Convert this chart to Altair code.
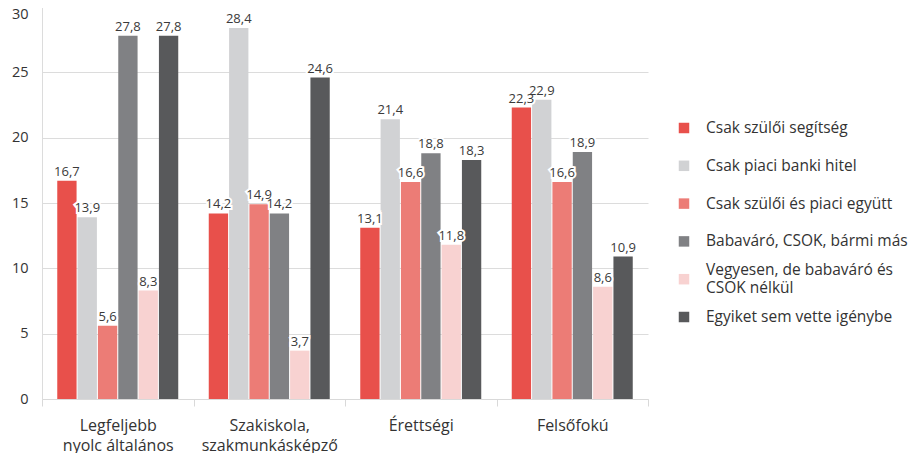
import altair as alt
import pandas as pd

categories = ["Legfeljebb nyolc általános", "Szakiskola, szakmunkásképző", "Érettségi", "Felsőfokú"]
series = [
    "Csak szülői segítség",
    "Csak piaci banki hitel",
    "Csak szülői és piaci együtt",
    "Babaváró, CSOK, bármi más",
    "Vegyesen, de babaváró és CSOK nélkül",
    "Egyiket sem vette igénybe",
]
legend_text = [
    "Csak szülői segítség",
    "Csak piaci banki hitel",
    "Csak szülői és piaci együtt",
    "Babaváró, CSOK, bármi más",
    "Vegyesen, de babaváró és\nCSOK nélkül",
    "Egyiket sem vette igénybe",
]
colors = ["#E8504B", "#D1D2D4", "#EC7C76", "#808184", "#F8D2D1", "#58595B"]

v_csak_szuloi = [16.7, 14.2, 13.1, 22.3]
v_csak_piaci = [13.9, 28.4, 21.4, 22.9]
v_egyutt = [5.6, 14.9, 16.6, 16.6]
v_babavaro = [27.8, 14.2, 18.8, 18.9]
v_vegyesen = [8.3, 3.7, 11.8, 8.6]
v_egyiket = [27.8, 24.6, 18.3, 10.9]

all_values = [v_csak_szuloi, v_csak_piaci, v_egyutt, v_babavaro, v_vegyesen, v_egyiket]

rows = []
for s, vals in zip(series, all_values):
    for c, v in zip(categories, vals):
        rows.append({"cat": c, "series": s, "value": v, "label": f"{v:.1f}".replace(".", ",")})
df = pd.DataFrame(rows)

df_leg = pd.DataFrame({"series": series, "text": legend_text,
                       "lines": [t.count("\n") + 1 for t in legend_text]})

FONT = "Open Sans"
color_scale = alt.Scale(domain=series, range=colors)

x = alt.X(
    "cat:N",
    sort=categories,
    title=None,
    scale=alt.Scale(paddingInner=0, paddingOuter=0),
    axis=alt.Axis(
        labelAngle=0,
        tickBand="extent",
        tickSize=7,
        tickColor="#D9D9D9",
        domainColor="#D9D9D9",
        labelPadding=11,
        labelFontSize=16,
        labelColor="#333333",
        labelFont=FONT,
        labelLimit=300,
        labelExpr="datum.label == 'Legfeljebb nyolc általános' ? ['Legfeljebb', 'nyolc általános'] : datum.label == 'Szakiskola, szakmunkásképző' ? ['Szakiskola,', 'szakmunkásképző'] : datum.label",
        labelLineHeight=20,
    ),
)
xoff = alt.XOffset(
    "series:N",
    sort=series,
    scale=alt.Scale(paddingInner=0.05, paddingOuter=0.75),
)
y = alt.Y(
    "value:Q",
    title=None,
    scale=alt.Scale(domain=[0, 30], nice=False),
    axis=alt.Axis(
        values=[0, 5, 10, 15, 20, 25, 30],
        ticks=False,
        gridColor="#DCDCDC",
        domainColor="#DCDCDC",
        labelFontSize=14.5,
        labelColor="#333333",
        labelFont=FONT,
        labelPadding=14,
        labelBaseline={"condition": {"test": "datum.value == 30", "value": "top"}, "value": "middle"},
    ),
)

bars = alt.Chart(df).mark_bar().encode(
    x=x,
    xOffset=xoff,
    y=y,
    color=alt.Color("series:N", sort=series, scale=color_scale, legend=None),
)

halo = alt.Chart(df).mark_text(
    baseline="bottom", dy=-2, fontSize=13, font=FONT, color="white",
    stroke="white", strokeWidth=4, strokeJoin="miter",
).encode(
    x=alt.X("cat:N", sort=categories),
    xOffset=alt.XOffset("series:N", sort=series),
    y="value:Q",
    text="label:N",
)

text = alt.Chart(df).mark_text(
    baseline="bottom", dy=-2, fontSize=13, font=FONT, color="#3A3A3A"
).encode(
    x=alt.X("cat:N", sort=categories),
    xOffset=alt.XOffset("series:N", sort=series),
    y="value:Q",
    text="label:N",
)

main = alt.layer(bars, halo, text).properties(width=606, height=392)

leg_y = alt.Y("series:N", sort=series, axis=None,
              scale=alt.Scale(type="point", range=[121, 310], padding=0))

leg_sym = alt.Chart(df_leg).mark_square(size=110, opacity=1).encode(
    x=alt.value(5),
    y=leg_y,
    color=alt.Color("series:N", sort=series, scale=color_scale, legend=None),
)
leg_txt1 = alt.Chart(df_leg).transform_filter("datum.lines == 1").mark_text(
    align="left", baseline="middle", fontSize=15.5, font=FONT, color="#333333"
).encode(x=alt.value(27), y=leg_y, text="text:N")
leg_txt2 = alt.Chart(df_leg).transform_filter("datum.lines > 1").mark_text(
    align="left", baseline="middle", fontSize=15.5, font=FONT, color="#333333",
    lineBreak="\n", lineHeight=18, dy=-9,
).encode(x=alt.value(27), y=leg_y, text="text:N")

legend = alt.layer(leg_sym, leg_txt1, leg_txt2).properties(width=225, height=392)

chart = (
    alt.hconcat(main, legend, spacing=29)
    .properties(padding={"left": 3, "top": -2, "right": 0, "bottom": 0})
    .configure_view(stroke=None)
    .configure_axis(gridWidth=1)
)

chart.save("out.html", embed_options={"renderer": "svg", "actions": False})
